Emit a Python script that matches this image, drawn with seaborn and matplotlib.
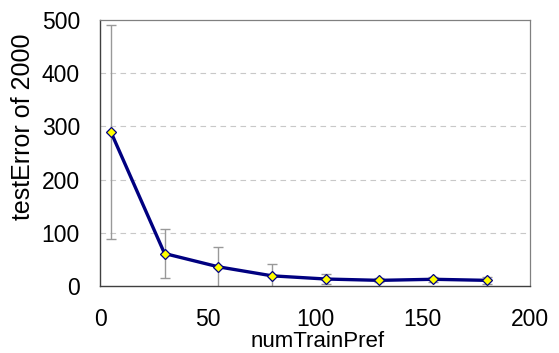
import numpy as np
import pandas as pd
import matplotlib
matplotlib.use("Agg")
import matplotlib.pyplot as plt
import seaborn as sns

# values
num_train_pref = [5, 30, 55, 80, 105, 130, 155, 180]
test_error = [290, 61, 36, 19, 13, 10.5, 12.5, 10.5]
err = [201, 47, 38, 22, 10, 4, 5, 6]

df = pd.DataFrame({"numTrainPref": num_train_pref, "testError": test_error, "err": err})

sns.set_style("white")
plt.rcParams["font.family"] = ["Liberation Sans", "DejaVu Sans"]
plt.rcParams["text.color"] = "black"
plt.rcParams["axes.labelcolor"] = "black"
plt.rcParams["xtick.color"] = "black"
plt.rcParams["ytick.color"] = "black"

fig = plt.figure(figsize=(5.59, 3.53), dpi=100)
ax = fig.add_axes([0.179, 0.190, 0.769, 0.753])

# error bars behind the line
ax.errorbar(df["numTrainPref"], df["testError"], yerr=df["err"], fmt="none",
            ecolor="#999999", elinewidth=1.0, capsize=3.5, capthick=1.0, zorder=1)

sns.lineplot(data=df, x="numTrainPref", y="testError", ax=ax, color="#000080",
             linewidth=2.4, marker="D", markersize=5, markerfacecolor="#ffff00",
             markeredgecolor="#000080", markeredgewidth=0.9, zorder=3)

ax.set_xlim(0, 200)
ax.set_ylim(0, 500)
ax.set_xticks([0, 50, 100, 150, 200])
ax.set_yticks([0, 100, 200, 300, 400, 500])

for y in [100, 200, 300, 400]:
    ax.axhline(y, color="#c8c8c8", linestyle=(0, (5, 4)), linewidth=0.8, zorder=0)

for side in ["left", "bottom"]:
    ax.spines[side].set_color("#404040")
    ax.spines[side].set_linewidth(1.0)
for side in ["top", "right"]:
    ax.spines[side].set_color("#808080")
    ax.spines[side].set_linewidth(0.9)

ax.tick_params(axis="both", direction="out", width=1, color="#404040", labelsize=16.5)
ax.tick_params(axis="y", length=6.5, pad=8)
ax.tick_params(axis="x", length=5, pad=11)

ax.set_xlabel("numTrainPref", fontsize=16)
ax.set_ylabel("testError of 2000", fontsize=18)
ax.xaxis.set_label_coords(0.505, -0.17)
ax.yaxis.set_label_coords(-0.152, 0.6)

fig.savefig("out.png", dpi=100)
